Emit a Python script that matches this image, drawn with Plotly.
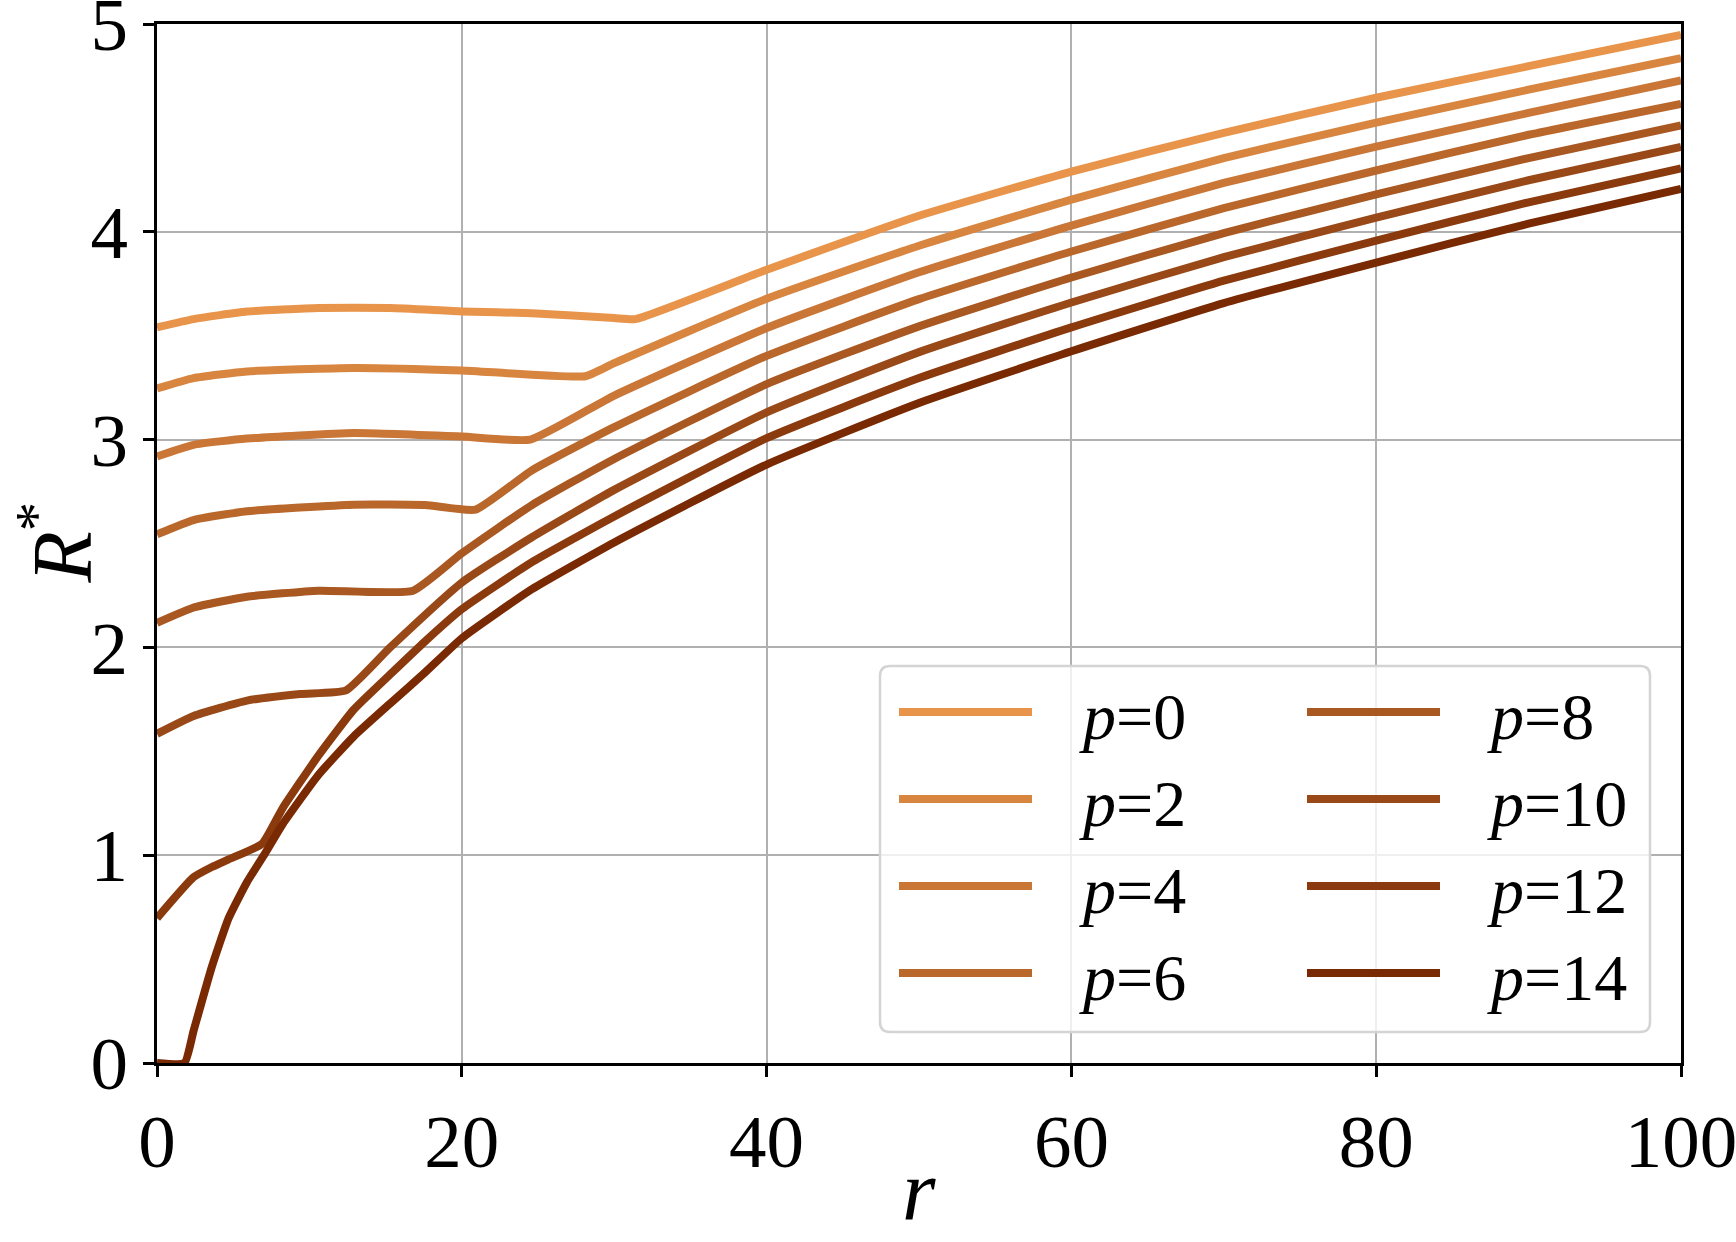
import plotly.graph_objects as go

# ---------------- data ----------------
p_labels = ["0", "2", "4", "6", "8", "10", "12", "14"]

r_p0 = [0, 2.4, 5.9, 10.6, 15.3, 20, 24.6, 30, 31.4, 40, 50, 60, 70, 80, 90, 100]
R_p0 = [3.54, 3.58, 3.616, 3.633, 3.633, 3.617, 3.608, 3.585, 3.58, 3.817, 4.077, 4.29, 4.476, 4.645, 4.797, 4.948]

r_p2 = [0, 2.4, 5.9, 12.9, 20, 28.1, 30, 40, 50, 60, 70, 80, 90, 100]
R_p2 = [3.246, 3.296, 3.328, 3.345, 3.333, 3.305, 3.368, 3.678, 3.933, 4.155, 4.355, 4.525, 4.684, 4.836]

r_p4 = [0, 2.4, 5.9, 12.9, 20, 24.5, 30, 40, 50, 60, 70, 80, 90, 100]
R_p4 = [2.919, 2.975, 3.005, 3.032, 3.015, 3.0, 3.212, 3.537, 3.805, 4.03, 4.235, 4.41, 4.572, 4.729]

r_p6 = [0, 2.4, 5.9, 12.9, 17.6, 20.9, 24.6, 30, 40, 50, 60, 70, 80, 90, 100]
R_p6 = [2.544, 2.613, 2.655, 2.687, 2.685, 2.663, 2.852, 3.06, 3.403, 3.676, 3.905, 4.114, 4.295, 4.467, 4.616]

r_p8 = [0, 2.4, 5.9, 10.6, 16.8, 20, 24.6, 30, 40, 50, 60, 70, 80, 90, 100]
R_p8 = [2.118, 2.192, 2.244, 2.273, 2.273, 2.453, 2.685, 2.907, 3.267, 3.545, 3.78, 3.994, 4.18, 4.355, 4.512]

r_p10 = [0, 2.4, 5.9, 9.4, 12.4, 15.3, 20, 24.6, 30, 40, 50, 60, 70, 80, 90, 100]
R_p10 = [1.584, 1.67, 1.744, 1.776, 1.793, 2.0, 2.312, 2.53, 2.758, 3.131, 3.421, 3.66, 3.878, 4.068, 4.248, 4.409]

r_p12 = [0, 2.4, 3.6, 4.7, 6.9, 8.25, 10.6, 12.9, 15.3, 17.6, 20, 24.6, 30, 40, 50, 60, 70, 80, 90, 100]
R_p12 = [0.697, 0.894, 0.943, 0.98, 1.055, 1.227, 1.48, 1.70, 1.87, 2.03, 2.184, 2.41, 2.63, 3.007, 3.296, 3.54, 3.765, 3.958, 4.142, 4.305]

r_p14 = [0, 1.8, 2.4, 3.6, 4.7, 5.9, 7.1, 8.25, 10.6, 12.9, 15.3, 17.6, 20, 24.6, 30, 40, 50, 60, 70, 80, 90, 100]
R_p14 = [0, 0, 0.155, 0.463, 0.697, 0.87, 1.01, 1.15, 1.387, 1.571, 1.73, 1.88, 2.044, 2.28, 2.505, 2.88, 3.176, 3.425, 3.657, 3.852, 4.039, 4.207]

x_ticks = [0, 20, 40, 60, 80, 100]
y_ticks = [0, 1, 2, 3, 4, 5]

series_r = [r_p0, r_p2, r_p4, r_p6, r_p8, r_p10, r_p12, r_p14]
series_R = [R_p0, R_p2, R_p4, R_p6, R_p8, R_p10, R_p12, R_p14]

# ---------------- styles ----------------
colors = ["#e8944a", "#d88540", "#c97636", "#b9672b", "#a95821", "#994917",
          "#8a3a0d", "#7a2a03"]
FONT = "Liberation Serif"
W, H = 1736, 1242
ML, MR, MT, MB = 157, 55, 24, 179
PW, PH = W - ML - MR, H - MT - MB
LW = 8


def px2paper(px, py):
    return (px - ML) / PW, (H - MB - py) / PH


fig = go.Figure()
for lab, xs, ys, c in zip(p_labels, series_r, series_R, colors):
    fig.add_trace(go.Scatter(x=xs, y=ys, mode="lines", name=f"p={lab}",
                             line=dict(color=c, width=LW, shape="spline",
                                       smoothing=0.45),
                             showlegend=False))

# ---------------- manual legend (matplotlib style) ----------------
shapes = []
annotations = []
bx0, by0, bx1, by1 = 880, 666, 1650, 1032
rad = 10
x0, y0 = px2paper(bx0, by1)
x1, y1 = px2paper(bx1, by0)
rx, ry = rad / PW, rad / PH
path = (f"M{x0+rx},{y0} L{x1-rx},{y0} Q{x1},{y0} {x1},{y0+ry} "
        f"L{x1},{y1-ry} Q{x1},{y1} {x1-rx},{y1} L{x0+rx},{y1} "
        f"Q{x0},{y1} {x0},{y1-ry} L{x0},{y0+ry} Q{x0},{y0} {x0+rx},{y0} Z")
shapes.append(dict(type="path", xref="paper", yref="paper", path=path,
                   fillcolor="rgba(255,255,255,0.8)",
                   line=dict(color="#d4d4d4", width=2.5), layer="above"))

row_y = [712, 799, 886, 973]
col_line = [(899, 1032), (1307, 1440)]
col_text = [1077, 1485]
for i, (lab, c) in enumerate(zip(p_labels, colors)):
    col, row = divmod(i, 4)
    lx0, ly = px2paper(col_line[col][0], row_y[row])
    lx1, _ = px2paper(col_line[col][1], row_y[row])
    shapes.append(dict(type="line", xref="paper", yref="paper",
                       x0=lx0, x1=lx1, y0=ly, y1=ly,
                       line=dict(color=c, width=LW), layer="above"))
    tx, ty = px2paper(col_text[col], row_y[row] + 4)
    annotations.append(dict(xref="paper", yref="paper", x=tx, y=ty,
                            xanchor="left", yanchor="middle", showarrow=False,
                            text=f"<i>p</i>={lab}",
                            font=dict(family=FONT, size=66, color="black")))

# axis titles placed as annotations
xt, yt = px2paper(919, 1241)
annotations.append(dict(xref="paper", yref="paper", x=xt, y=yt,
                        xanchor="center", yanchor="bottom", showarrow=False,
                        text="<i>r</i>",
                        font=dict(family=FONT, size=86, color="black")))
xt, yt = px2paper(1, 543)
annotations.append(dict(xref="paper", yref="paper", x=xt, y=yt,
                        xanchor="left", yanchor="middle", showarrow=False,
                        textangle=-90, text="<i>R</i><sup>*</sup>",
                        font=dict(family=FONT, size=84, color="black")))

axis_common = dict(showgrid=True, gridcolor="#b0b0b0", gridwidth=2.2,
                   showline=True, linecolor="black", linewidth=3, mirror=True,
                   ticks="outside", ticklen=11, tickwidth=2.5, tickcolor="black",
                   zeroline=False, ticklabeloverflow="allow",
                   tickfont=dict(family=FONT, size=75, color="black"))

fig.update_layout(
    width=W, height=H,
    margin=dict(l=ML, r=MR, t=MT, b=MB, autoexpand=False),
    paper_bgcolor="white", plot_bgcolor="white",
    shapes=shapes, annotations=annotations,
    xaxis=dict(range=[0, 100], tickvals=x_ticks,
               ticktext=[str(v) for v in x_ticks], **axis_common),
    yaxis=dict(range=[0, 5], tickvals=y_ticks,
               ticktext=[str(v) for v in y_ticks], **axis_common),
)

fig.write_html("out.html")
